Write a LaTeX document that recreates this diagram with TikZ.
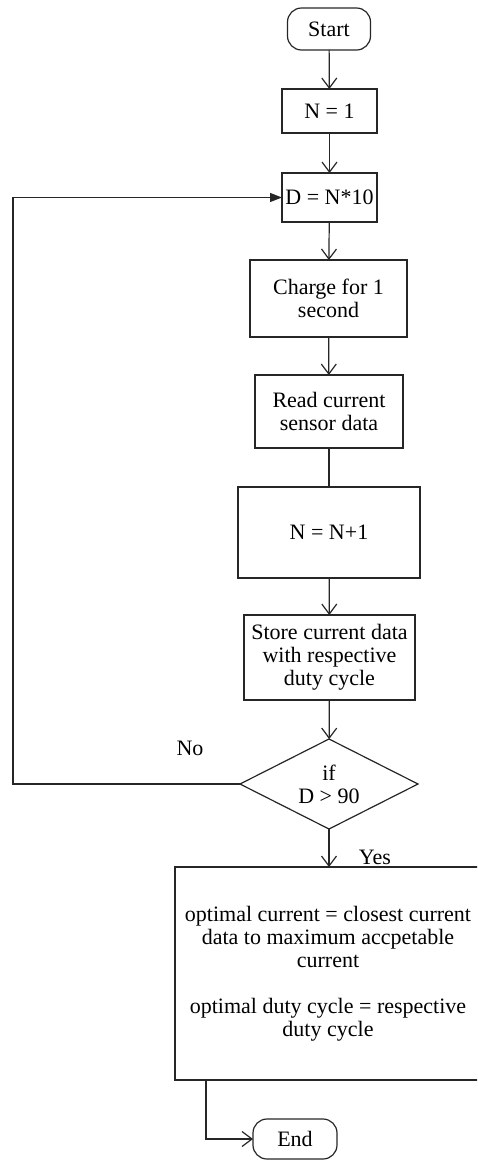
\documentclass[tikz,border=0pt]{standalone}
\usepackage{fontspec}
\setmainfont{Liberation Serif}
\usetikzlibrary{arrows.meta,shapes.geometric,calc}

\begin{document}
\begin{tikzpicture}[x=1pt,y=-1pt,
  font=\fontsize{22}{23}\selectfont,
  every node/.style={inner sep=0pt, outer sep=0pt},
  box/.style={draw=black!85, line width=1.2pt, rectangle, align=center},
  term/.style={draw=black!85, line width=1.2pt, rectangle, rounded corners=14pt, align=center},
  decision/.style={draw=black!85, line width=1.2pt, diamond, aspect=2, align=center},
  flow/.style={draw=black!85, line width=1.2pt, -{Straight Barb[length=10pt,width=15pt,line width=1.2pt]}},
  plain/.style={draw=black!85, line width=1.2pt},
  back/.style={draw=black!85, line width=1.2pt, -{Triangle[length=12pt,width=9pt]}},
  lbl/.style={font=\fontsize{22}{23}\selectfont}
]
\useasboundingbox (0,0) rectangle (477,1160);
\clip (0,0) rectangle (477,1160);

% process nodes
\node[term, minimum width=83pt, minimum height=42pt] (start) at (329,29) {Start};
\node[box, minimum width=95pt, minimum height=44pt] (n1) at (329.5,111) {N = 1};
\node[box, minimum width=95pt, minimum height=49pt] (d) at (329.5,197.5) {D = N*10};
\node[box, minimum width=157pt, minimum height=77pt] (charge) at (328.5,298.5) {Charge for 1\\second};
\node[box, minimum width=148pt, minimum height=73pt] (read) at (329,411.5) {Read current\\sensor data};
\node[box, minimum width=182pt, minimum height=91pt] (inc) at (329,532.5) {N = N+1};
\node[box, minimum width=171pt, minimum height=85pt] (store) at (329.5,657.5) {Store current data\\with respective\\duty cycle};
\node[decision, minimum width=178pt, minimum height=90pt] (cond) at (329,784) {if\\D \textgreater\ 90};
\node[box, minimum width=306pt, minimum height=213pt] (result) at (328,973.5)
  {optimal current = closest current\\data to maximum accpetable\\current\\[23pt]optimal duty cycle = respective\\duty cycle};
\node[term, minimum width=84pt, minimum height=40pt] (end) at (295,1139) {End};

% labels
\node[lbl] (nolbl) at (190,748) {No};
\node[lbl] (yeslbl) at (375,857) {Yes};

% connectors
\draw[flow] (start) -- (n1);
\draw[flow] (n1) -- (d);
\draw[flow] (d) -- (charge);
\draw[flow] (charge) -- (read);
\draw[plain] (read) -- (inc);
\draw[flow] (inc) -- (store);
\draw[flow] (store) -- (cond);
\draw[flow] (cond) -- (result.north -| cond.south);
\coordinate (loopturn) at (13,784);
\draw[back] (cond.west) -- (loopturn) |- (d.west);
\coordinate (outturn) at (206,1080);
\draw[flow] (outturn) |- (end.west);
\end{tikzpicture}
\end{document}
